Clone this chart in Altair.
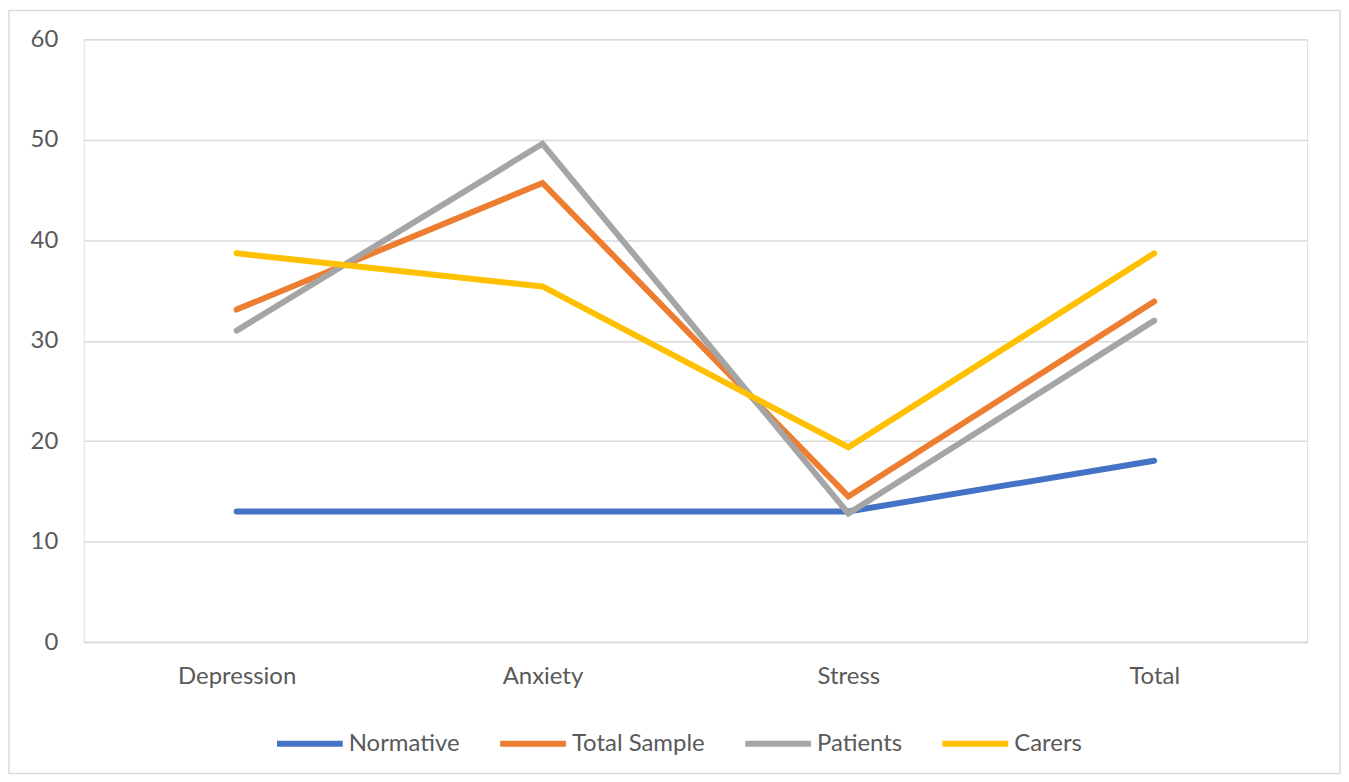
import altair as alt
import pandas as pd

categories = ["Depression", "Anxiety", "Stress", "Total"]
series_names = ["Normative", "Total Sample", "Patients", "Carers"]
normative = [13.0, 13.0, 13.0, 18.05]
total_sample = [33.1, 45.7, 14.5, 33.9]
patients = [31.0, 49.6, 12.8, 32.0]
carers = [38.7, 35.4, 19.4, 38.7]
colors = ["#4472C4", "#ED7D31", "#A5A5A5", "#FFC000"]

rows = []
for name, vals in zip(series_names, [normative, total_sample, patients, carers]):
    for c, v in zip(categories, vals):
        rows.append({"category": c, "series": name, "value": v})
df = pd.DataFrame(rows)

W, H = 1228, 605
PL, PT, PR, PB = 76, 30, 34, 133
FONT = "Lato"
FS = 24
TXT = "#595959"

lines = alt.Chart(df).mark_line(strokeWidth=6, strokeCap="round", strokeJoin="miter").encode(
    x=alt.X("category:O", sort=categories, title=None,
            scale=alt.Scale(type="point", padding=0.5),
            axis=alt.Axis(labelAngle=0, ticks=False, domain=True, domainColor="#d9d9d9",
                          domainWidth=1.5, labelPadding=23, labelFontSize=FS,
                          labelColor=TXT, labelFont=FONT, grid=False)),
    y=alt.Y("value:Q", title=None,
            scale=alt.Scale(domain=[0, 60], nice=False),
            axis=alt.Axis(values=[0, 10, 20, 30, 40, 50, 60], domain=False, ticks=False,
                          gridColor="#d9d9d9", gridWidth=1.5, labelPadding=26,
                          labelFontSize=FS, labelColor=TXT, labelFont=FONT)),
    color=alt.Color("series:N", sort=series_names,
                    scale=alt.Scale(domain=series_names, range=colors),
                    legend=alt.Legend(title=None, orient="none", direction="horizontal",
                                      legendX=191, legendY=671,
                                      symbolType="stroke", symbolSize=4356, symbolStrokeWidth=6,
                                      labelFontSize=FS, labelColor=TXT, labelFont=FONT,
                                      labelOffset=3, columnPadding=28,
                                      labelLimit=300)),
)

border = alt.Chart(pd.DataFrame({"a": [0]})).mark_rect(
    fill=None, stroke="#d9d9d9", strokeWidth=1.5
).encode(
    x=alt.value(-PL + 1), x2=alt.value(W + PR - 1),
    y=alt.value(-PT + 1), y2=alt.value(H + PB - 1),
)

chart = alt.layer(border, lines).properties(
    width=W, height=H,
    padding={"left": PL, "top": PT, "right": PR, "bottom": PB},
    autosize=alt.AutoSizeParams(type="none"),
).configure_view(stroke=None).configure(background="white")

chart.save("out.html", embed_options={"renderer": "svg", "actions": False})
